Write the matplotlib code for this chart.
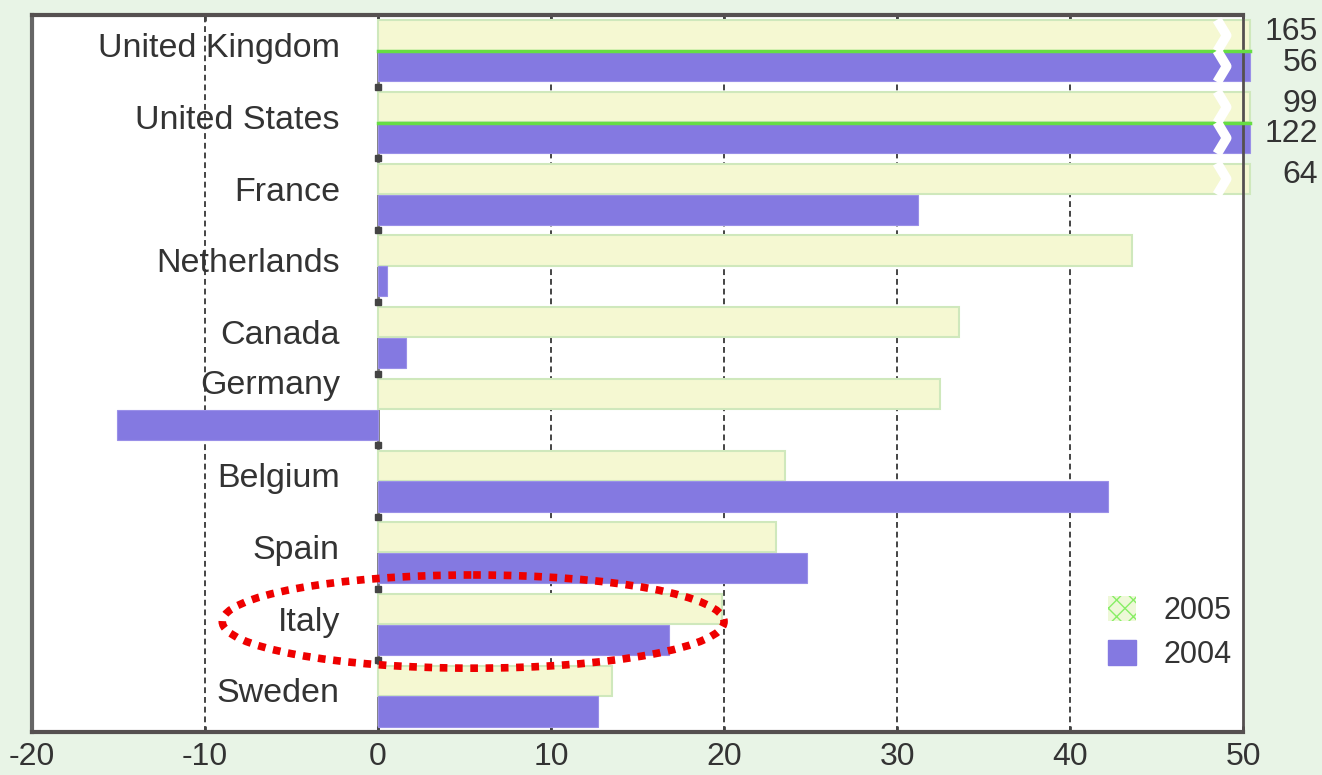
import matplotlib
matplotlib.use("Agg")
import matplotlib.pyplot as plt
from matplotlib.patches import Ellipse, Patch
import numpy as np

countries = ["United Kingdom", "United States", "France", "Netherlands", "Canada",
             "Germany", "Belgium", "Spain", "Italy", "Sweden"]
v2005 = [165, 99, 64, 43.6, 33.6, 32.5, 23.5, 23.0, 19.9, 13.5]
v2004 = [56, 122, 31.2, 0.5, 1.6, -15.1, 42.2, 24.8, 16.8, 12.7]
xticks = [-20, -10, 0, 10, 20, 30, 40, 50]
xmin, xmax = -20, 50

plt.rcParams['font.family'] = ['Liberation Sans', 'DejaVu Sans']

fig = plt.figure(figsize=(13.22, 7.75), dpi=100, facecolor='#e8f4e6')
ax = fig.add_axes([0.0242, 0.0555, 0.9161, 0.9251])
ax.set_facecolor('white')

n = len(countries)
y = np.arange(n)
bh = 0.42
off = 0.215
c05 = '#f5f8d2'
e05 = '#cfe8bc'
c04 = '#8479e1'

clip05 = [min(v, xmax + 0.4) for v in v2005]
clip04 = [min(v, xmax + 0.4) for v in v2004]

ax.barh(y - off, clip05, height=bh, color=c05, edgecolor=e05, linewidth=1.5,
        zorder=2, clip_on=False)
ax.barh(y + off, clip04, height=bh, color=c04, edgecolor='#9a90e8', linewidth=0.8,
        zorder=2, clip_on=False)

# break marks and value labels for bars beyond the axis
for i in range(n):
    for vals, yy in ((v2005, y[i] - off), (v2004, y[i] + off)):
        v = vals[i]
        if v > xmax:
            if vals is v2004 and v2005[i] > xmax:
                ax.plot([0, xmax + 0.4], [yy - bh / 2, yy - bh / 2], color='#66dd44',
                        lw=2.5, zorder=3, clip_on=False)
            xb = xmax - 1.5
            ax.plot([xb, xb + 0.55, xb], [yy - bh / 2 - 0.01, yy, yy + bh / 2 + 0.01],
                    color='white', lw=7, zorder=4, solid_capstyle='butt', clip_on=False)
            ax.text(xmax + 4.35, yy - 0.05, f"{v:g}", ha='right', va='center',
                    fontsize=23, color='#333333', clip_on=False)

ax.set_xlim(xmin, xmax)
ax.set_ylim(n - 0.5, -0.5)
ax.set_xticks(xticks)
ax.set_xticklabels([str(t) for t in xticks], fontsize=23, color='#333333')
ax.set_yticks([])
ax.tick_params(axis='x', direction='in', length=4, width=2, color='#444444', pad=7,
               top=True)

for gx in xticks[1:-1]:
    if gx == 0:
        ax.axvline(gx, color='#777777', lw=2, zorder=1)
    else:
        ax.axvline(gx, color='#444444', lw=1.4, ls=(0, (3, 2)), zorder=1)

for sp in ['top', 'bottom']:
    ax.spines[sp].set_color('#555050')
    ax.spines[sp].set_linewidth(3)
ax.spines['right'].set_color('#555050')
ax.spines['right'].set_linewidth(2)
ax.spines['left'].set_color('#666666')
ax.spines['left'].set_linewidth(3)
ax.spines['left'].set_linestyle((0, (2, 1)))

# small ticks on zero line between rows
ax.plot(np.zeros(n - 1), y[:-1] + 0.5, ls='none', marker='s', markersize=4,
        color='#444444', zorder=3)

# country labels
for i, c in enumerate(countries):
    dy = -0.03
    if v2004[i] < 0:
        dy = -0.33
    ax.text(-2.2, y[i] + dy, c, ha='right', va='center', fontsize=24.5,
            color='#333333', zorder=5)

# legend
handles = [Patch(facecolor='#eef8d8', edgecolor='#88ee66', hatch='xx', lw=0),
           Patch(facecolor=c04, edgecolor=c04)]
leg = ax.legend(handles, ['2005', '2004'], loc='upper left',
                bbox_to_anchor=(0.866, 0.228), frameon=False, fontsize=22,
                handlelength=0.9, handleheight=0.9, labelspacing=0.45,
                handletextpad=0.9)
for t in leg.get_texts():
    t.set_color('#333333')

# highlight ellipse around Italy
iy = countries.index("Italy")
ell = Ellipse(((-9.3 + v2005[iy]) / 2 + 0.2, y[iy] - 0.04), width=29.0, height=1.3,
              fill=False, edgecolor='#ee0000', lw=5.5, ls=(0, (1, 1)), zorder=6,
              clip_on=False)
ax.add_patch(ell)

fig.savefig('out.png', dpi=100, facecolor=fig.get_facecolor())
